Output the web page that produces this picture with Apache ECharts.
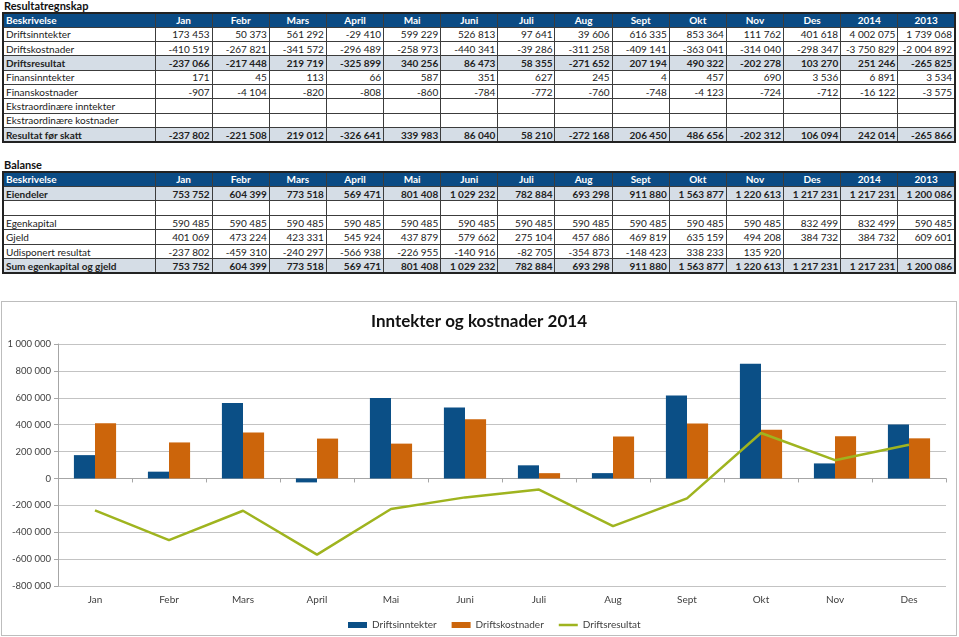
<!DOCTYPE html>
<html>
<head>
<meta charset="utf-8">
<script src="https://cdn.jsdelivr.net/npm/echarts@6/dist/echarts.min.js"></script>
<style>
  html,body{margin:0;padding:0;background:#fff;width:959px;height:637px;overflow:hidden;font-family:Lato,"Noto Sans",sans-serif;}
  .ttl{position:absolute;left:4px;font-weight:bold;font-size:11px;line-height:12px;color:#111;}
  table{position:absolute;left:2px;width:954px;border-collapse:collapse;table-layout:fixed;font-size:10px;color:#222;border:2px solid #222;}
  td{border:1px solid #3c3c3c;padding:0 2px;white-space:nowrap;overflow:hidden;text-align:right;line-height:12px;}
  td:first-child{text-align:left;}
  tr.hd td{background:#0b4b84;color:#fff;font-weight:bold;text-align:center;}
  tr.hd td:first-child{text-align:left;}
  tr.b td{background:#d5dde6;font-weight:bold;}
  #chart{position:absolute;left:1px;top:301px;width:956px;height:335px;box-sizing:border-box;border:1px solid #bdbdbd;}
</style>
</head>
<body>
<div class="ttl" style="top:0px">Resultatregnskap</div>
<table id="t1" style="top:12px"></table>
<div class="ttl" style="top:159px">Balanse</div>
<table id="t2" style="top:171px"></table>
<div id="chart"></div>
<script>
// ---- data ----
const months = ['Jan','Febr','Mars','April','Mai','Juni','Juli','Aug','Sept','Okt','Nov','Des'];
const yearCols = ['2014','2013'];

const driftsinntekter = [173453,50373,561292,-29410,599229,526813,97641,39606,616335,853364,111762,401618,4002075,1739068];
const driftskostnader = [-410519,-267821,-341572,-296489,-258973,-440341,-39286,-311258,-409141,-363041,-314040,-298347,-3750829,-2004892];
const driftsresultat = [-237066,-217448,219719,-325899,340256,86473,58355,-271652,207194,490322,-202278,103270,251246,-265825];
const finansinntekter = [171,45,113,66,587,351,627,245,4,457,690,3536,6891,3534];
const finanskostnader = [-907,-4104,-820,-808,-860,-784,-772,-760,-748,-4123,-724,-712,-16122,-3575];
const ekstraInntekter = [];
const ekstraKostnader = [];
const resultatForSkatt = [-237802,-221508,219012,-326641,339983,86040,58210,-272168,206450,486656,-202312,106094,242014,-265866];

const eiendeler = [753752,604399,773518,569471,801408,1029232,782884,693298,911880,1563877,1220613,1217231,1217231,1200086];
const egenkapital = [590485,590485,590485,590485,590485,590485,590485,590485,590485,590485,590485,832499,832499,590485];
const gjeld = [401069,473224,423331,545924,437879,579662,275104,457686,469819,635159,494208,384732,384732,609601];
const udisponertResultat = [-237802,-459310,-240297,-566938,-226955,-140916,-82705,-354873,-148423,338233,135920,null,null,null];
const sumEgenkapitalGjeld = [753752,604399,773518,569471,801408,1029232,782884,693298,911880,1563877,1220613,1217231,1217231,1200086];

// chart series (2014, monthly)
const chartInntekter = [173453,50373,561292,-29410,599229,526813,97641,39606,616335,853364,111762,401618];
const chartKostnader = [410519,267821,341572,296489,258973,440341,39286,311258,409141,363041,314040,298347];
const chartResultat = [-237802,-459310,-240297,-566938,-226955,-140916,-82705,-354873,-148423,338233,135920,251246];

const yTicks = {min:-800000, max:1000000, interval:200000};

// ---- tables ----
function fmt(v){
  if (v === null || v === undefined) return '';
  const s = Math.abs(v).toString().replace(/\B(?=(\d{3})+(?!\d))/g, ' ');
  return (v < 0 ? '-' : '') + s;
}
function buildTable(id, rows, rowH){
  const t = document.getElementById(id);
  let h = '<colgroup><col style="width:152px">' + months.concat(yearCols).map(()=>'<col>').join('') + '</colgroup>';
  h += '<tr class="hd" style="height:'+rowH+'px"><td>Beskrivelse</td>' + months.concat(yearCols).map(m=>'<td>'+m+'</td>').join('') + '</tr>';
  rows.forEach(r=>{
    const label = r[0], arr = r[1], bold = r[2];
    let cells = '';
    for (let i=0;i<14;i++) cells += '<td>' + fmt(arr[i]) + '</td>';
    h += '<tr' + (bold?' class="b"':'') + ' style="height:'+rowH+'px"><td>' + label + '</td>' + cells + '</tr>';
  });
  t.innerHTML = h;
}
buildTable('t1', [
  ['Driftsinntekter', driftsinntekter, false],
  ['Driftskostnader', driftskostnader, false],
  ['Driftsresultat', driftsresultat, true],
  ['Finansinntekter', finansinntekter, false],
  ['Finanskostnader', finanskostnader, false],
  ['Ekstraordinære inntekter', ekstraInntekter, false],
  ['Ekstraordinære kostnader', ekstraKostnader, false],
  ['Resultat før skatt', resultatForSkatt, true]
], 14.33);
buildTable('t2', [
  ['Eiendeler', eiendeler, true],
  ['', [], false],
  ['Egenkapital', egenkapital, false],
  ['Gjeld', gjeld, false],
  ['Udisponert resultat', udisponertResultat, false],
  ['Sum egenkapital og gjeld', sumEgenkapitalGjeld, true]
], 14.47);

// ---- chart ----
const lineIcon = 'path://M0,0h0.01v0.01h-0.01z M0,1.75h20v2.5h-20z M0,5.99h0.01v0.01h-0.01z';
const chart = echarts.init(document.getElementById('chart'));
chart.setOption({
  animation: false,
  textStyle: {fontFamily: 'Lato'},
  title: {text: 'Inntekter og kostnader 2014', left: 'center', top: 6,
          textStyle: {fontSize: 17, fontWeight: 'bold', color: '#111', fontFamily: 'Lato'}},
  legend: {top: 313, left: 341, itemGap: 15, itemWidth: 19, itemHeight: 6,
           textStyle: {fontSize: 10, color: '#404040'},
           data: [{name:'Driftsinntekter', icon:'rect'}, {name:'Driftskostnader', icon:'rect'}, {name:'Driftsresultat', icon: lineIcon}]},
  grid: {left: 56, top: 42, width: 888, height: 242, outerBoundsMode: 'none'},
  xAxis: [
    {type:'category', data: months, position:'bottom',
     axisLine:{show:false, onZero:false}, axisTick:{show:false},
     axisLabel:{margin:9, fontSize:10, color:'#404040'}},
    {type:'category', data: months, position:'top',
     axisLine:{show:true, onZero:true, lineStyle:{color:'#a6a6a6'}},
     axisTick:{show:true, inside:true, length:4, lineStyle:{color:'#a6a6a6'}},
     axisLabel:{show:false}}
  ],
  yAxis: {type:'value', min: yTicks.min, max: yTicks.max, interval: yTicks.interval,
          axisLine:{show:true, lineStyle:{color:'#a6a6a6'}},
          axisTick:{show:true, length:4, lineStyle:{color:'#a6a6a6'}},
          splitLine:{lineStyle:{color:'#c3c3c3'}},
          axisLabel:{formatter: fmt, fontSize: 9.5, color:'#404040', margin:7}},
  series: [
    {name:'Driftsinntekter', type:'bar', xAxisIndex:0, data: chartInntekter,
     barGap:'0%', barCategoryGap:'43%', itemStyle:{color:'#0b4f86'}},
    {name:'Driftskostnader', type:'bar', xAxisIndex:0, data: chartKostnader,
     itemStyle:{color:'#cc650b'}},
    {name:'Driftsresultat', type:'line', xAxisIndex:0, data: chartResultat,
     symbol:'none', lineStyle:{width:2.5, color:'#9fb41f'}, itemStyle:{color:'#9fb41f'}}
  ]
});
</script>
</body>
</html>
